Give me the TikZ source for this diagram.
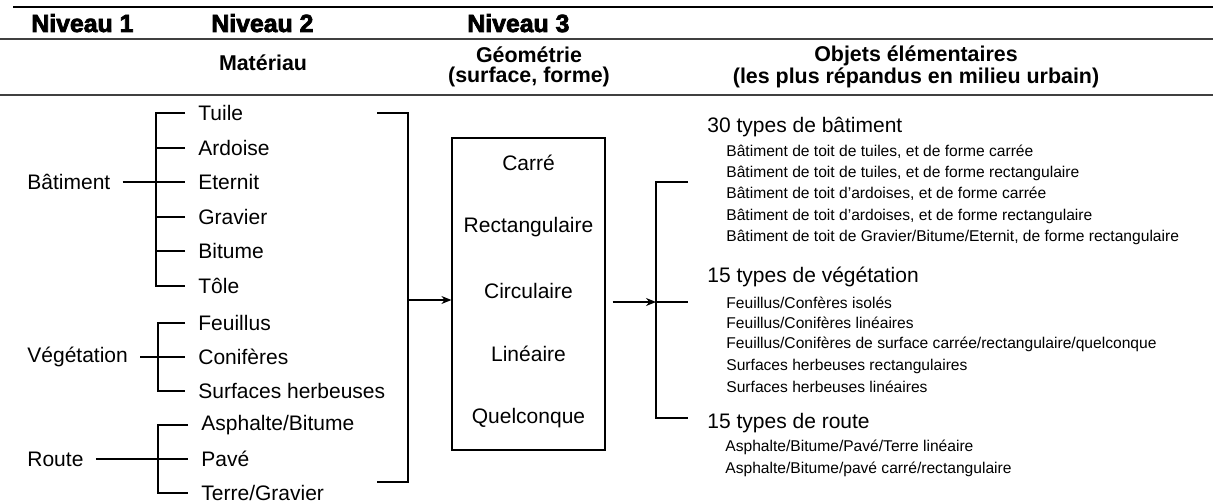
\documentclass[tikz,border=0pt]{standalone}
\usepackage{fontspec}
\setmainfont{Liberation Sans}
\newfontfamily\heavyfont[BoldFont={Liberation Sans Bold},BoldFeatures={FakeBold=3}]{Liberation Sans}
\usetikzlibrary{arrows.meta, positioning}

\begin{document}
\begin{tikzpicture}[
  x=0.5pt, y=-0.5pt,
  level/.style={font=\heavyfont\bfseries\fontsize{12.4}{13}\selectfont, anchor=base west, inner sep=0pt},
  colhead/.style={font=\bfseries\fontsize{10.7}{10}\selectfont, align=center, inner sep=0pt},
  root/.style={font=\fontsize{10.5}{12}\selectfont, anchor=west, inner sep=6pt},
  leaf/.style={font=\fontsize{10.5}{12}\selectfont, anchor=west, inner sep=6.5pt},
  forme/.style={font=\fontsize{10.5}{12}\selectfont, inner sep=0pt},
  typehead/.style={font=\fontsize{10.5}{12}\selectfont, anchor=west, inner sep=0pt},
  typeitem/.style={font=\fontsize{7.8}{9}\selectfont, anchor=west, inner sep=0pt},
  link/.style={line width=0.6pt},
  arr/.style={-{Stealth[length=5pt,width=4pt]}, line width=0.6pt}
]
  \useasboundingbox (0,0) rectangle (1213,503);

  % header rules
  \draw[line width=1pt] (13,7) -- (1213,7);
  \draw[line width=1pt, black!75] (0,39) -- (1213,39);
  \draw[line width=1.3pt, black!75] (0,95) -- (1213,95);

  \node[level] (niv1) at (31,32) {Niveau 1};
  \node[level] (niv2) at (211,32) {Niveau 2};
  \node[level] (niv3) at (467,32) {Niveau 3};

  \node[colhead] (materiau) at (263,63) {Matériau};
  \node[colhead] (geometrie) at (529,67) {Géométrie\\(surface, forme)};
  \node[colhead] (objets) at (916,67) {Objets élémentaires\\(les plus répandus en milieu urbain)};

  % niveau 1 -> niveau 2
  \node[root] (batiment) at (15,182) {Bâtiment};
  \node[leaf] (tuile)   at (185,113) {Tuile};
  \node[leaf] (ardoise) at (185,148) {Ardoise};
  \node[leaf] (eternit) at (185,182) {Eternit};
  \node[leaf] (gravier) at (185,217) {Gravier};
  \node[leaf] (bitume)  at (185,251) {Bitume};
  \node[leaf] (tole)    at (185,286) {Tôle};

  \node[root] (vegetation) at (15,357) {Végétation};
  \node[leaf] (feuillus)  at (185,323) {Feuillus};
  \node[leaf] (coniferes) at (185,357) {Conifères};
  \node[leaf] (herbe)     at (185,391) {Surfaces herbeuses};

  \node[root] (route) at (15,459) {Route};
  \node[leaf] (asphalte) at (188,425) {Asphalte/Bitume};
  \node[leaf] (pave)     at (188,459) {Pavé};
  \node[leaf] (terre)    at (188,493) {Terre/Gravier};

  \draw[link] (tuile.west) -- ++(-29,0) |- (tole.west);
  \foreach \n in {ardoise,gravier,bitume}
    \draw[link] (\n.west) -- ++(-29,0);
  \draw[link] (batiment.east) -- (eternit.west);

  \draw[link] (feuillus.west) -- ++(-27,0) |- (herbe.west);
  \draw[link] (vegetation.east) -- (coniferes.west);

  \draw[link] (asphalte.west) -- ++(-30,0) |- (terre.west);
  \draw[link] (route.east) -- (pave.west);

  % niveau 2 -> niveau 3
  \coordinate (mattop) at (377,113);
  \coordinate (matbot) at (377,482);
  \coordinate (matmid) at (408,300);
  \draw[link] (mattop) -- ++(31,0) |- (matbot);

  \node[draw, line width=0.6pt, minimum width=76.5pt, minimum height=156pt, inner sep=0pt] (geobox) at (528.5,294) {};
  \foreach \s [count=\i from 0] in {Carré,Rectangulaire,Circulaire,Linéaire,Quelconque}
    \node[forme] (forme\i) at (528.5,163+63.75*\i) {\s};
  \draw[arr] (matmid) -- (geobox.west |- matmid);

  % niveau 3 -> objets
  \coordinate (objtop) at (688,182);
  \coordinate (objbot) at (688,418);
  \coordinate (objmid) at (656,302);
  \draw[link] (objtop) -- ++(-32,0) |- (objbot);
  \draw[link] (objmid) -- ++(32,0);
  \draw[arr] ([xshift=3.5pt]geobox.east |- objmid) -- (objmid);

  \node[typehead] (typbat) at (707,127) {30 types de bâtiment};
  \node[typeitem] (bat1) at (726,152) {Bâtiment de toit de tuiles, et de forme carrée};
  \node[typeitem] (bat2) at (726,173) {Bâtiment de toit de tuiles, et de forme rectangulaire};
  \node[typeitem] (bat3) at (726,194) {Bâtiment de toit d'ardoises, et de forme carrée};
  \node[typeitem] (bat4) at (726,216) {Bâtiment de toit d'ardoises, et de forme rectangulaire};
  \node[typeitem] (bat5) at (726,237) {Bâtiment de toit de Gravier/Bitume/Eternit, de forme rectangulaire};

  \node[typehead] (typveg) at (707,277) {15 types de végétation};
  \node[typeitem] (veg1) at (726,303) {Feuillus/Confères isolés};
  \node[typeitem] (veg2) at (726,323) {Feuillus/Conifères linéaires};
  \node[typeitem] (veg3) at (726,344) {Feuillus/Conifères de surface carrée/rectangulaire/quelconque};
  \node[typeitem] (veg4) at (726,366) {Surfaces herbeuses rectangulaires};
  \node[typeitem] (veg5) at (726,387) {Surfaces herbeuses linéaires};

  \node[typehead] (typrou) at (707,423) {15 types de route};
  \node[typeitem] (rou1) at (725,447) {Asphalte/Bitume/Pavé/Terre linéaire};
  \node[typeitem] (rou2) at (725,469) {Asphalte/Bitume/pavé carré/rectangulaire};
\end{tikzpicture}
\end{document}
